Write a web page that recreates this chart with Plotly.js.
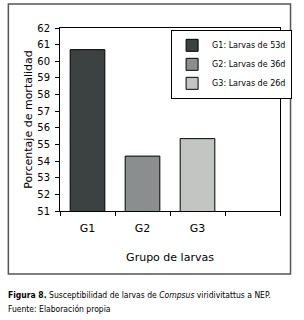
<!DOCTYPE html>
<html><head><meta charset="utf-8">
<script src="https://cdn.plot.ly/plotly-3.0.1.min.js"></script>
<style>html,body{margin:0;padding:0;background:#fff;}#chart{width:304px;height:320px;}</style>
</head><body><div id="chart"></div>
<script>
const categories = ['G1', 'G2', 'G3', ' '];
const seriesNames = ['G1: Larvas de 53d', 'G2: Larvas de 36d', 'G3: Larvas de 26d'];
const values = [60.7, 54.3, 55.35];
const colors = ['#3c4141', '#8b8e8e', '#c3c5c3'];
const yTicks = [51, 52, 53, 54, 55, 56, 57, 58, 59, 60, 61, 62];

const traces = seriesNames.map((name, i) => ({
  type: 'bar', name: name, x: [categories[i]], y: [values[i]],
  width: 0.63,
  marker: {color: colors[i], line: {color: '#000', width: 1}},
  hoverinfo: 'none'
}));

const layout = {
  width: 304, height: 320,
  margin: {l: 60, r: 14, t: 28, b: 109},
  paper_bgcolor: '#fff', plot_bgcolor: '#fff',
  barmode: 'overlay',
  font: {family: 'DejaVu Sans', color: '#000', size: 10},
  xaxis: {
    type: 'category', categoryorder: 'array', categoryarray: categories,
    range: [-0.5, 3.5], tickson: 'boundaries',
    ticks: 'outside', ticklen: 4, tickcolor: '#000', tickwidth: 1,
    showline: true, linecolor: '#000', linewidth: 1, mirror: true,
    showgrid: false, zeroline: false,
    ticklabelstandoff: 7,
    tickfont: {family: 'DejaVu Sans', size: 11},
    title: {text: 'Grupo de larvas', font: {family: 'DejaVu Sans', size: 11}, standoff: 19}
  },
  yaxis: {
    range: [51, 62], tickvals: yTicks,
    ticks: 'outside', ticklen: 4, tickcolor: '#000', tickwidth: 1,
    showline: true, linecolor: '#000', linewidth: 1, mirror: true,
    showgrid: false, zeroline: false,
    ticklabelstandoff: 3,
    tickfont: {family: 'DejaVu Sans', size: 10},
    title: {text: 'Porcentaje de mortalidad', font: {family: 'DejaVu Sans', size: 11}, standoff: 2}
  },
  showlegend: true,
  legend: {
    x: 0.505, y: 0.99, xanchor: 'left', yanchor: 'top',
    bordercolor: '#000', borderwidth: 1, bgcolor: '#fff',
    font: {family: 'DejaVu Sans', size: 8},
    itemwidth: 30, tracegroupgap: 0
  },
  shapes: [{
    type: 'rect', xref: 'paper', yref: 'paper',
    x0: (6 - 60) / 230, x1: (301 - 60) / 230,
    y0: (211 - 274) / 183, y1: (211 - 4) / 183,
    line: {color: '#555', width: 1.5}, fillcolor: 'rgba(0,0,0,0)', layer: 'below'
  }],
  annotations: [
    {xref: 'paper', yref: 'paper', x: (4 - 60) / 230, y: (211 - 295) / 183,
     xanchor: 'left', yanchor: 'middle', showarrow: false,
     font: {family: 'Liberation Sans Narrow, DejaVu Sans Condensed', size: 8.5},
     text: '<b>Figura 8.</b> Susceptibilidad de larvas de <i>Compsus</i> viridivitattus a NEP.'},
    {xref: 'paper', yref: 'paper', x: (4 - 60) / 230, y: (211 - 309) / 183,
     xanchor: 'left', yanchor: 'middle', showarrow: false,
     font: {family: 'Liberation Sans Narrow, DejaVu Sans Condensed', size: 8.5},
     text: 'Fuente: Elaboración propia'}
  ]
};

Plotly.newPlot('chart', traces, layout, {staticPlot: true, displayModeBar: false});
</script></body></html>
